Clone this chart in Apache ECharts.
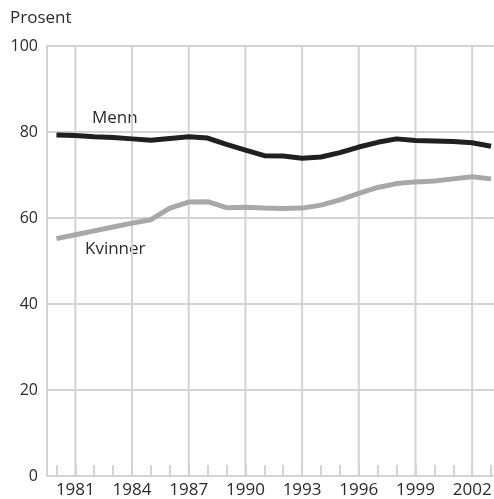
<!DOCTYPE html>
<html>
<head>
<meta charset="utf-8">
<script src="https://cdn.jsdelivr.net/npm/echarts@6/dist/echarts.min.js"></script>
<style>html,body{margin:0;padding:0;background:#fff;overflow:hidden;width:494px;height:499px;}#c{width:501px;height:499px;}</style>
</head>
<body>
<div id="c"></div>
<script>
const years = [1980,1981,1982,1983,1984,1985,1986,1987,1988,1989,1990,1991,1992,1993,1994,1995,1996,1997,1998,1999,2000,2001,2002,2003];
const menn = [79.3,79.2,78.9,78.7,78.4,78.1,78.5,78.9,78.6,77.1,75.8,74.5,74.4,73.9,74.2,75.2,76.5,77.6,78.4,78.0,77.9,77.8,77.5,76.7];
const kvinner = [55.2,56.1,57.0,57.9,58.8,59.6,62.3,63.7,63.8,62.4,62.5,62.3,62.2,62.3,63.0,64.2,65.7,67.1,68.0,68.4,68.6,69.1,69.6,69.1];
const xLabelYears = [1981,1984,1987,1990,1993,1996,1999,2002];
const yTicks = [0,20,40,60,80,100];
const gridCol = '#d3d3d3';
const textCol = '#2b2b2b';
const font = '"Open Sans", "Noto Sans", sans-serif';
const chart = echarts.init(document.getElementById('c'));
// half-year slots so the axis runs from mid-1979 to mid-2003, with each year at a slot
const slots = [];
years.forEach(y => { slots.push(String(y - 0.5)); slots.push(String(y)); });
slots.push(String(years[years.length - 1] + 0.5));
const onSlots = (vals) => slots.map(s => { const k = years.indexOf(Number(s)); return k >= 0 ? vals[k] : null; });
const isYear = (i) => Number.isInteger(Number(slots[i]));
const isLabel = (i) => xLabelYears.indexOf(Number(slots[i])) >= 0;
const yTop = yTicks[yTicks.length - 1];
// full-height vertical guides at the labelled years
const guides = slots.map((s, i) => isLabel(i) ? yTop : null);
chart.setOption({
  animation: false,
  grid: {left: 47, top: 46, bottom: 21, right: 0.5, containLabel: false},
  xAxis: {
    type: 'category', data: slots, boundaryGap: false,
    axisLine: {show: true, lineStyle: {color: gridCol, width: 2}},
    axisTick: {show: true, inside: true, length: 11, interval: isYear, lineStyle: {color: gridCol, width: 2}},
    axisLabel: {show: true, interval: isLabel, color: textCol, fontSize: 17, fontFamily: font, margin: 6},
    splitLine: {show: false}
  },
  yAxis: {
    type: 'value', min: yTicks[0], max: yTop, interval: 20,
    axisLine: {show: true, lineStyle: {color: gridCol, width: 2}},
    axisTick: {show: false},
    axisLabel: {color: textCol, fontSize: 16, fontFamily: font, margin: 9},
    splitLine: {show: true, lineStyle: {color: gridCol, width: 2}}
  },
  graphic: [
    {type: 'text', left: 10, top: 10, style: {text: 'Prosent', fill: textCol, fontSize: 17, fontFamily: font}},
    {type: 'text', left: 92, top: 110, style: {text: 'Menn', fill: textCol, fontSize: 17, fontFamily: font}},
    {type: 'text', left: 85, top: 241, style: {text: 'Kvinner', fill: textCol, fontSize: 17, fontFamily: font}}
  ],
  series: [
    {name: 'guides', type: 'bar', data: guides, barWidth: 2, silent: true, z: 1, itemStyle: {color: gridCol}, emphasis: {disabled: true}},
    {name: 'Menn', type: 'line', data: onSlots(menn), connectNulls: true, symbol: 'none', lineStyle: {color: '#231f20', width: 5}, z: 4},
    {name: 'Kvinner', type: 'line', data: onSlots(kvinner), connectNulls: true, symbol: 'none', lineStyle: {color: '#a7a8ab', width: 5}, z: 3}
  ]
});
</script>
</body>
</html>
